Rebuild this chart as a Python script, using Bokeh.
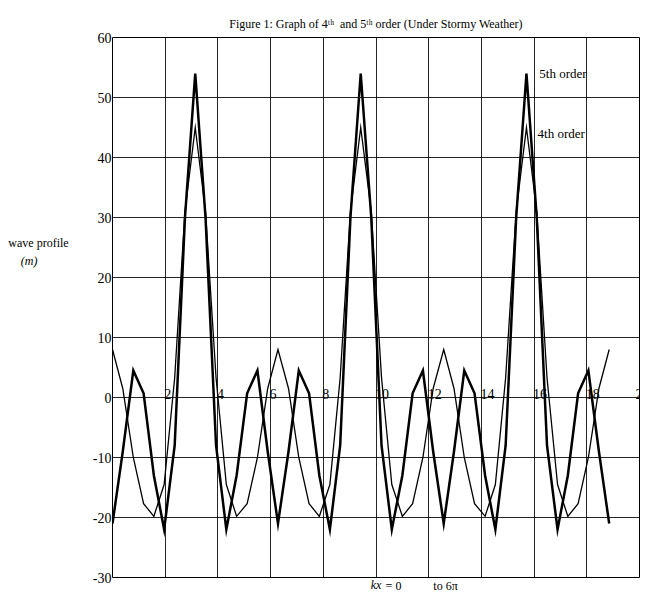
from bokeh.plotting import figure
from bokeh.models import FixedTicker, Range1d, LinearAxis
from bokeh.layouts import row
from bokeh.core.properties import value
from bokeh.embed import file_html
from bokeh.resources import INLINE

# x positions: kx from 0 to 6*pi in steps of pi/8
x_vals = [0.00, 0.39, 0.79, 1.18, 1.57, 1.96, 2.36, 2.75, 3.14, 3.53, 3.93, 4.32,
          4.71, 5.11, 5.50, 5.89, 6.28, 6.68, 7.07, 7.46, 7.85, 8.25, 8.64, 9.03,
          9.42, 9.82, 10.21, 10.60, 11.00, 11.39, 11.78, 12.17, 12.57, 12.96, 13.35, 13.74,
          14.14, 14.53, 14.92, 15.32, 15.71, 16.10, 16.49, 16.89, 17.28, 17.67, 18.06, 18.46,
          18.85]

# 5th order wave profile (m)
fifth_order = [-21, -9, 4.5, 0.7, -13, -22, -8, 30, 54, 30, -8, -22, -13, 0.7, 4.5, -9,
               -21, -9, 4.5, 0.7, -13, -22, -8, 30, 54, 30, -8, -22, -13, 0.7, 4.5, -9,
               -21, -9, 4.5, 0.7, -13, -22, -8, 30, 54, 30, -8, -22, -13, 0.7, 4.5, -9,
               -21]

# 4th order wave profile (m)
fourth_order = [8, 1.5, -10, -17.7, -19.8, -14.5, 3.3, 31, 45, 31, 3.3, -14.5, -19.8, -17.7, -10, 1.5,
                8, 1.5, -10, -17.7, -19.8, -14.5, 3.3, 31, 45, 31, 3.3, -14.5, -19.8, -17.7, -10, 1.5,
                8, 1.5, -10, -17.7, -19.8, -14.5, 3.3, 31, 45, 31, 3.3, -14.5, -19.8, -17.7, -10, 1.5,
                8]

x_grid_ticks = [0, 2, 4, 6, 8, 10, 12, 14, 16, 18, 20]
x_tick_values = [2, 4, 6, 8, 10, 12, 14, 16, 18, 20]
x_tick_labels = ["2", "4", "6", "8", "10", "12", "14", "16", "18", "20"]
y_ticks = [-30, -20, -10, 0, 10, 20, 30, 40, 50, 60]

title_text = "Figure 1: Graph of 4\u1d57\u02b0\u00a0 and 5\u1d57\u02b0 order (Under Stormy Weather)"
series_labels = ["5th order", "4th order"]
x_title_var = "kx"
x_title_parts = ["= 0", "to 6\u03c0"]
y_title = "wave profile"
y_unit = "(m)"
FONT = "Liberation Serif"

W, H = 649, 594
LEFT_W = 80
FRAME_L, FRAME_R, FRAME_T, FRAME_B = 112, 639, 37, 577

x_range = Range1d(0, 20)
y_range = Range1d(-30, 60)
px_per_unit = (FRAME_R - FRAME_L) / 20.0

# ---------------- main plot ----------------
p = figure(width=W - LEFT_W, height=H, output_backend="svg", toolbar_location=None,
           x_range=x_range, y_range=y_range,
           min_border_left=FRAME_L - LEFT_W, min_border_right=W - FRAME_R,
           min_border_top=FRAME_T, min_border_bottom=H - FRAME_B)
p.background_fill_color = "white"
p.border_fill_color = "white"
p.outline_line_color = "black"
p.outline_line_width = 1

p.title.text = title_text
p.title.align = "center"
p.title.vertical_align = "top"
p.title.text_font = FONT
p.title.text_font_size = "12px"
p.title.text_font_style = "normal"
p.title.text_color = "black"
p.title.standoff = 10

# y axis labels
p.yaxis.ticker = FixedTicker(ticks=y_ticks)
p.yaxis.major_label_overrides = {t: str(t) for t in y_ticks}
p.yaxis.axis_line_color = None
p.yaxis.major_tick_line_color = None
p.yaxis.minor_tick_line_color = None
p.yaxis.major_tick_in = 0
p.yaxis.major_tick_out = 0
p.yaxis.major_label_standoff = 1
p.yaxis.major_label_text_font = FONT
p.yaxis.major_label_text_font_size = "14px"
p.yaxis.major_label_text_color = "black"

# x labels sit on the zero line, just right of each grid line
shifted = []
overrides = {}
for t, s in zip(x_tick_values, x_tick_labels):
    if t >= 20:
        pos = 19.999
        lab = "\u00a0\u00a0" + s
    else:
        pos = t + (3.5 * len(s) - 1) / px_per_unit
        lab = s
    shifted.append(pos)
    overrides[pos] = lab
xa = p.xaxis[0]
xa.fixed_location = 0
xa.ticker = FixedTicker(ticks=shifted)
xa.major_label_overrides = overrides
xa.axis_line_color = None
xa.major_tick_line_color = None
xa.minor_tick_line_color = None
xa.major_tick_in = 0
xa.major_tick_out = 0
xa.major_label_standoff = -11
xa.major_label_text_font = FONT
xa.major_label_text_font_size = "14px"
xa.major_label_text_color = "black"

# bottom caption "kx = 0   to 6pi": italic kx as axis label, the rest as tick labels
cap_pos = [(393 - FRAME_L) / px_per_unit, (445 - FRAME_L) / px_per_unit]
bax = LinearAxis(ticker=FixedTicker(ticks=cap_pos),
                 major_label_overrides={cap_pos[0]: x_title_parts[0], cap_pos[1]: x_title_parts[1]},
                 axis_label=x_title_var)
bax.axis_line_color = None
bax.major_tick_line_color = None
bax.minor_tick_line_color = None
bax.major_tick_in = 0
bax.major_tick_out = 0
bax.major_label_standoff = 1
bax.major_label_text_font = FONT
bax.major_label_text_font_size = "12px"
bax.major_label_text_color = "black"
bax.axis_label_text_font = FONT
bax.axis_label_text_font_size = "12px"
bax.axis_label_text_font_style = "italic"
bax.axis_label_text_color = "black"
bax.axis_label_standoff = -18
p.add_layout(bax, "below")

p.xgrid.ticker = FixedTicker(ticks=x_grid_ticks)
p.ygrid.ticker = FixedTicker(ticks=y_ticks)
p.grid.grid_line_color = "black"
p.grid.grid_line_width = 1
p.grid.grid_line_alpha = 0.85

p.line(x_vals, fourth_order, line_color="black", line_width=1.3, line_join="miter")
p.line(x_vals, fifth_order, line_color="black", line_width=2.5, line_join="miter")

p.text(x=[16.2, 16.13], y=[54, 44], text=series_labels,
       text_font=value(FONT), text_font_size="13px", text_color="black",
       text_align="left", text_baseline="middle")

# ---------------- left strip: y axis title ----------------
pl = figure(width=LEFT_W, height=H, output_backend="svg", toolbar_location=None,
            x_range=Range1d(0, LEFT_W), y_range=y_range,
            min_border_left=0, min_border_right=0,
            min_border_top=FRAME_T, min_border_bottom=H - FRAME_B)
pl.axis.visible = False
pl.grid.visible = False
pl.outline_line_color = None
pl.background_fill_color = "white"
pl.border_fill_color = "white"
pl.text(x=[38], y=[25.7], text=[y_title], text_font=value(FONT),
        text_font_size="12px", text_color="black", text_align="center", text_baseline="middle")
pl.text(x=[28.7], y=[22.8], text=[y_unit], text_font=value(FONT), text_font_style="italic",
        text_font_size="12px", text_color="black", text_align="center", text_baseline="middle")

layout = row(pl, p)
open("out.html", "w").write(file_html(layout, INLINE))
